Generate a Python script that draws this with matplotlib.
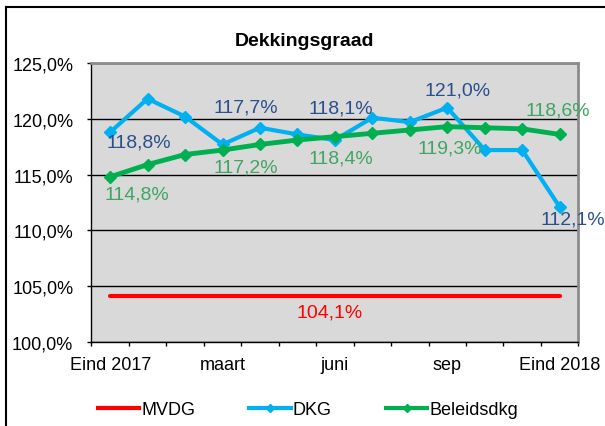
import matplotlib
matplotlib.use('Agg')
import matplotlib.pyplot as plt
from matplotlib.lines import Line2D

plt.rcParams['font.family'] = ['Liberation Sans', 'DejaVu Sans']

months = ['Eind 2017', 'jan', 'feb', 'maart', 'apr', 'mei', 'juni',
          'jul', 'aug', 'sep', 'okt', 'nov', 'Eind 2018']
tick_labels = ['Eind 2017', 'maart', 'juni', 'sep', 'Eind 2018']
tick_idx = [0, 3, 6, 9, 12]

mvdg = [104.1] * 13
dkg = [118.8, 121.8, 120.2, 117.7, 119.2, 118.6, 118.1,
       120.1, 119.7, 121.0, 117.2, 117.2, 112.1]
beleid = [114.8, 115.9, 116.8, 117.2, 117.7, 118.1, 118.4,
          118.7, 119.0, 119.3, 119.2, 119.1, 118.6]

# which points get a data label, and the offset (pixels, y down) of the label
dkg_lab = {0: (29, 10), 3: (23, -37), 6: (6, -32), 9: (10, -18), 12: (13, 12)}
bel_lab = {0: (27, 17), 3: (23, 17), 6: (6, 21), 9: (2, 21), 12: (-2, -24)}
mvdg_lab = {6: (-5, 16)}

c_red = '#FF0000'
c_blue = '#00B0F0'
c_green = '#00B050'
c_blue_txt = '#2B4F8C'
c_green_txt = '#3FA662'

fig = plt.figure(figsize=(6.05, 4.27), dpi=100)
ax = fig.add_axes([91.4 / 605, 1 - 343 / 427, 487 / 605, 279 / 427])
ax.set_facecolor('#D9D9D9')

x = list(range(len(months)))
ax.plot(x, mvdg, color=c_red, lw=3, solid_capstyle='round', zorder=3)
ax.plot(x, dkg, color=c_blue, lw=3, marker='D', ms=6, zorder=4)
ax.plot(x, beleid, color=c_green, lw=3.5, marker='D', ms=6, zorder=5)

px = 0.72  # points per pixel
def label(series, labs, color):
    for i, (dx, dy) in labs.items():
        ax.annotate(f'{series[i]:.1f}%'.replace('.', ','), (i, series[i]),
                    xytext=(dx * px, -dy * px), textcoords='offset points',
                    ha='center', va='center', fontsize=14, color=color,
                    zorder=6)

label(dkg, dkg_lab, c_blue_txt)
label(beleid, bel_lab, c_green_txt)
label(mvdg, mvdg_lab, c_red)

ax.set_xlim(-0.5, 12.5)
ax.set_ylim(100, 125)
yt = [100, 105, 110, 115, 120, 125]
ax.set_yticks(yt)
ax.set_yticklabels([f'{v:.1f}%'.replace('.', ',') for v in yt], fontsize=13)
ax.yaxis.grid(True, color='#000000', lw=1)
ax.set_axisbelow(True)

ax.set_xticks(tick_idx)
ax.set_xticklabels(tick_labels, fontsize=13)
ax.set_xticks([i - 0.5 for i in range(14)], minor=True)
ax.tick_params(axis='x', which='major', length=0, pad=10)
ax.tick_params(axis='x', which='minor', length=3, width=1, direction='out')
ax.tick_params(axis='y', length=3, width=1, direction='out', pad=10)

for s in ['top', 'right']:
    ax.spines[s].set_color('#8C8C8C')
    ax.spines[s].set_linewidth(2)
for s in ['left', 'bottom']:
    ax.spines[s].set_color('#000000')
    ax.spines[s].set_linewidth(1)

fig.text(305 / 605, 1 - 42 / 427, 'Dekkingsgraad', ha='center', va='center',
         fontsize=14, fontweight='bold')

handles = [Line2D([], [], color=c_red, lw=3),
           Line2D([], [], color=c_blue, lw=3, marker='D', ms=4),
           Line2D([], [], color=c_green, lw=3, marker='D', ms=4)]
fig.legend(handles, ['MVDG', 'DKG', 'Beleidsdkg'], loc='center',
           bbox_to_anchor=(308 / 605, 1 - 411 / 427), ncol=3, frameon=False,
           fontsize=13, handlelength=2.3, handletextpad=0.1,
           columnspacing=3.0)

# outer chart border (left and top visible)
fig.add_artist(Line2D([6 / 605, 6 / 605], [0, 1 - 8 / 427], color='black', lw=1.5,
                      transform=fig.transFigure))
fig.add_artist(Line2D([6 / 605, 1], [1 - 8 / 427, 1 - 8 / 427], color='black', lw=1.5,
                      transform=fig.transFigure))

fig.savefig('out.png', dpi=100)
